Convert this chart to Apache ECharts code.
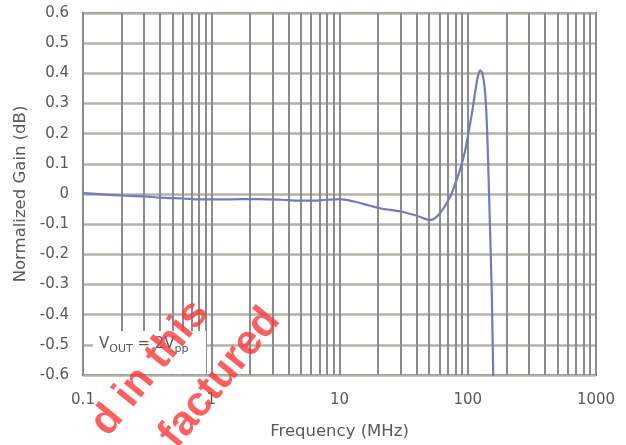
<!DOCTYPE html>
<html><head><meta charset="utf-8">
<script src="https://cdn.jsdelivr.net/npm/echarts@6/dist/echarts.min.js"></script>
<style>html,body{margin:0;padding:0;background:#fff}#c{width:626px;height:445px}</style>
</head><body><div id="c"></div>
<script>
const freqMHz = [0.1, 0.15, 0.2, 0.3, 0.4, 0.6, 0.8, 1.2, 1.7, 2.4, 3.5, 4.9, 7, 10, 13, 17, 21, 30, 40, 51, 60, 73, 80, 87, 95, 101, 108, 114, 120, 125, 130, 136, 141, 145, 149, 154, 158, 162];
const gainDB = [0.003, -0.002, -0.005, -0.008, -0.012, -0.015, -0.018, -0.018, -0.017, -0.017, -0.019, -0.022, -0.021, -0.017, -0.025, -0.038, -0.048, -0.058, -0.072, -0.086, -0.066, -0.009, 0.035, 0.08, 0.14, 0.2, 0.27, 0.335, 0.39, 0.41, 0.4, 0.345, 0.23, 0.07, -0.108, -0.33, -0.6, -0.8];
const xTicks = [0.1, 1, 10, 100, 1000];
const minorGrid = [];
for (const d of [0.1, 1, 10, 100]) for (let k = 2; k <= 9; k++) minorGrid.push(+(d * k).toPrecision(3));
const yMin = -0.6, yMax = 0.6, yStep = 0.1;

const chart = echarts.init(document.getElementById('c'));
const font = 'DejaVu Sans';
const wm = 'rgba(255,50,50,0.78)';
chart.setOption({
  animation: false,
  grid: {left: 83, top: 13, right: 30, bottom: 70, show: true, backgroundColor: 'transparent', borderColor: '#6b6b6b', borderWidth: 2},
  xAxis: {
    type: 'log', min: xTicks[0], max: xTicks[xTicks.length - 1], logBase: 10,
    name: 'Frequency (MHz)', nameLocation: 'middle', nameGap: 48,
    nameTextStyle: {color: '#595959', fontSize: 16.5, fontFamily: font},
    axisLine: {show: false}, axisTick: {show: false},
    axisLabel: {color: '#595959', fontSize: 15, fontFamily: font, margin: 18,
      formatter: v => String(+v.toPrecision(3))},
    splitLine: {show: true, lineStyle: {color: '#8c8c8c', width: 2}}
  },
  yAxis: {
    type: 'value', min: yMin, max: yMax, interval: yStep,
    name: 'Normalized Gain (dB)', nameLocation: 'middle', nameGap: 53,
    nameTextStyle: {color: '#595959', fontSize: 16.5, fontFamily: font},
    axisLine: {show: false}, axisTick: {show: false},
    axisLabel: {color: '#595959', fontSize: 15, fontFamily: font, margin: 14,
      formatter: v => (Math.abs(v) < 1e-9 ? '0' : v.toFixed(1))},
    splitLine: {show: true, lineStyle: {color: '#b3b3aa', width: 2.5}}
  },
  series: [
    {
      type: 'line', data: [], silent: true,
      markLine: {silent: true, symbol: 'none', label: {show: false},
        lineStyle: {color: '#8c8c8c', width: 2, type: 'solid'},
        data: minorGrid.map(v => ({xAxis: v}))}
    },
    {
      type: 'line', smooth: 0.3, showSymbol: false, clip: true,
      lineStyle: {color: '#7579c2', width: 2.2},
      data: freqMHz.map((f, i) => [f, gainDB[i]]),
      z: 5
    }
  ],
  graphic: [
    {type: 'rect', left: 93, top: 331, shape: {width: 113, height: 43}, style: {fill: '#fff'}, z: 10},
    {type: 'text', left: 99, top: 337, z: 11,
      style: {text: '{a|V}{s|OUT}{a| = 2V}{s|pp}', rich: {
        a: {fontSize: 15, fontFamily: font, fill: '#595959', verticalAlign: 'bottom', lineHeight: 20},
        s: {fontSize: 11, fontFamily: font, fill: '#595959', verticalAlign: 'bottom', lineHeight: 14, padding: [0, 0, -3, 0]}
      }}},
    {type: 'text', x: 150, y: 368, rotation: 0.89, z: 20,
      style: {text: 'd in this', fontSize: 42, fontWeight: 'bold', fontFamily: 'Liberation Sans', fill: wm, align: 'center', verticalAlign: 'middle'}},
    {type: 'text', x: 220, y: 378, rotation: 0.89, z: 20,
      style: {text: 'factured', fontSize: 42, fontWeight: 'bold', fontFamily: 'Liberation Sans', fill: wm, align: 'center', verticalAlign: 'middle'}}
  ]
});
</script></body></html>
